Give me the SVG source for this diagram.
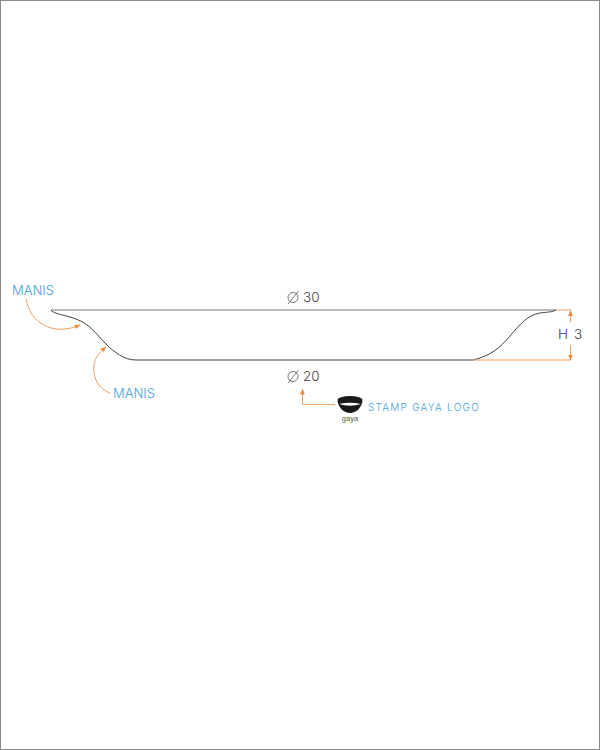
<svg xmlns="http://www.w3.org/2000/svg" width="600" height="750" viewBox="0 0 600 750">
<style>
.blue{font-family:"Inter","Liberation Sans",sans-serif;font-weight:300;fill:#3f9fdc;font-size:13px}
.dim{font-family:"Inter","Liberation Sans",sans-serif;font-weight:300;fill:#444;font-size:13.5px}
.or{fill:none;stroke:#f0a060;stroke-width:1}
.ol{fill:none;stroke:#444;stroke-width:1}
.sym{fill:none;stroke:#555;stroke-width:.8}
</style>
<defs><marker id="a" viewBox="0 0 6 6" refX="5.5" refY="3" markerWidth="6" markerHeight="6" orient="auto" markerUnits="userSpaceOnUse"><path d="M0 .6L6 3L0 5.4Z" fill="#ea8a3e"/></marker></defs>
<rect x=".5" y=".5" width="599" height="749" fill="#fff" stroke="#8a8a8a"/>
<g id="plate">
<path d="M51 310H556" fill="none" stroke="#777" stroke-width="1"/>
<path class="ol" d="M51 310C53 314 66 315 76 319C90 324 96 334 106 344C114 352 124 360 136 360H473C490 356 500 348 510 336C520 324 528 315 540 313C548 312 553 312 556 310"/>
</g>
<g id="connectors">
<path class="or" marker-end="url(#a)" d="M26 299C30 322 52 337 80 325"/>
<path class="or" marker-end="url(#a)" d="M110 393C96 387 93 376 94 365C95 357 100 352 106 347"/>
<path class="or" d="M556 310H571M473 360H571"/>
<path class="or" marker-end="url(#a)" d="M570.500 322V310.500"/>
<path class="or" marker-end="url(#a)" d="M570.500 345V360"/>
<path class="or" marker-end="url(#a)" d="M335 404.500H302.500V389"/>
</g>
<g id="label-manis-1"><text class="blue" x="12" y="295">MANIS</text></g>
<g id="label-manis-2"><text class="blue" x="113" y="398">MANIS</text></g>
<g id="dim-30"><circle class="sym" cx="293" cy="297.500" r="5"/><path class="sym" d="M288 304L298.500 291"/><text class="dim" x="303" y="302">30</text></g>
<g id="dim-20"><circle class="sym" cx="293" cy="376.500" r="5"/><path class="sym" d="M288 383L298.500 370"/><text class="dim" x="303" y="381">20</text></g>
<g id="dim-h3"><text class="dim" x="558" y="339">H</text><text class="dim" x="574" y="339">3</text></g>
<g id="logo">
<ellipse cx="350" cy="400" rx="12.500" ry="4" fill="#1a1a1a"/>
<path d="M337.500 401C338.500 408 344 413 350 413C356 413 361.500 408 362.500 401Z" fill="#1a1a1a"/>
<path d="M339 404Q350 401.500 361 404Q350 407.500 339 404Z" fill="#fff"/>
<text x="350" y="421" text-anchor="middle" font-family="Liberation Sans,sans-serif" font-size="7.500" fill="#555">gaya</text>
</g>
<g id="label-stamp"><text x="368" y="411" font-family="Inter,Liberation Sans,sans-serif" font-weight="300" font-size="10" letter-spacing="1.250" fill="#3f9fdc">STAMP GAYA LOGO</text></g>
</svg>
